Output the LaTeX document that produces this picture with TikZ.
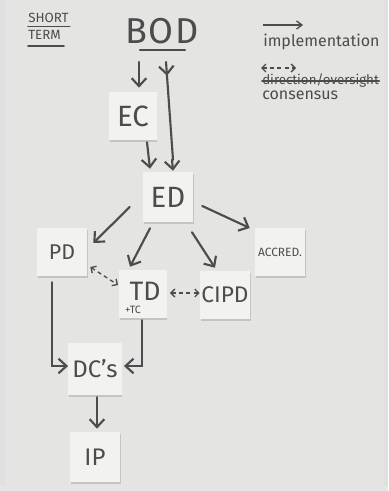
\documentclass[tikz,border=0pt]{standalone}
\usepackage{fontspec}
\setmainfont{Fira Sans}
\usetikzlibrary{arrows.meta,shadows,decorations.markings,calc}
\definecolor{paperc}{HTML}{E4E4E2}
\definecolor{notec}{HTML}{F2F2EF}
\definecolor{inkc}{HTML}{4C4C4C}
\begin{document}
\begin{tikzpicture}[x=0.75pt,y=-0.75pt,
  ink/.style={draw=inkc,line width=1.6pt,line cap=round},
  arr/.style={ink,-{Straight Barb[length=6pt,width=11pt,line width=1.6pt]}},
  darr/.style={draw=inkc,line width=1pt,dash pattern=on 3pt off 2.5pt,
    {Straight Barb[length=3pt,width=6pt]}-{Straight Barb[length=3pt,width=6pt]}},
  note/.style={fill=notec,inner sep=0pt,text=inkc,
    drop shadow={shadow xshift=0.5pt,shadow yshift=-1.5pt,fill=black!35,opacity=0.5}},
  hand/.style={text=inkc,inner sep=0pt}
]
\useasboundingbox (0,0) rectangle (388,491);
\fill[paperc] (0,0) rectangle (388,491);
\fill[black!12] (0,0) rectangle (5,491);
\fill[black!12] (384,0) rectangle (388,491);
\fill[black!10] (0,486) rectangle (388,491);

% header
\node[hand,anchor=base west,font=\fontsize{10}{10}\selectfont] (short) at (28,23) {SHORT};
\node[hand,anchor=base west,font=\fontsize{10}{10}\selectfont] (term) at (28,40) {TERM};
\draw[ink,line width=1.2pt] ([shift={(0,3)}]short.south west) -- ([shift={(1,3)}]short.south east);
\draw[ink,line width=1.2pt] ([shift={(0,6)}]term.south west) -- ([shift={(3,6)}]term.south east);

\node[hand,anchor=base,font=\fontsize{27}{27}\selectfont\addfontfeature{LetterSpace=4}] (bod) at (162,44) {BOD};
\draw[ink] ([shift={(-22,6)}]bod.base) -- ([shift={(23,6)}]bod.base);

% legend
\coordinate (lga) at (263,25);
\coordinate (lgb) at (303,25);
\draw[draw=inkc,line width=1pt,-{Straight Barb[length=4pt,width=6pt]}] (lga) -- (lgb);
\node[hand,anchor=base west,font=\fontsize{12}{12}\selectfont] (impl) at (263,47) {implementation};
\coordinate (lgc) at (261,68);
\coordinate (lgd) at (296,68);
\draw[darr] (lgc) -- (lgd);
\node[hand,anchor=base west,font=\fontsize{10}{10}\selectfont] (dir) at (262,85) {direction/oversight};
\draw[ink,line width=1.4pt] ([yshift=2.8pt]dir.base west) -- ([yshift=2.8pt]dir.base east);
\node[hand,anchor=base west,font=\fontsize{12}{12}\selectfont] (cons) at (262,100) {consensus};

% notes
\node[note,minimum width=35.5pt,minimum height=36pt,font=\fontsize{22}{22}\selectfont] (ec) at (133,116) {EC};
\node[note,minimum width=37.5pt,minimum height=37.5pt,font=\fontsize{22}{22}\selectfont] (ed) at (168,197) {ED};
\node[note,minimum width=37.5pt,minimum height=36pt,font=\fontsize{16}{16}\selectfont] (pd) at (62,252) {PD\hspace{6pt}};
\node[note,minimum width=37.5pt,minimum height=36pt,font=\fontsize{9}{9}\selectfont] (accred) at (280,252) {ACCRED.};
\node[note,minimum width=35.5pt,minimum height=36pt] (td) at (143,294) {};
\node[hand,font=\fontsize{20}{20}\selectfont] (tdt) at (145,291) {TD};
\node[hand,font=\fontsize{8}{8}\selectfont] (tc) at (133,310) {+TC};
\node[note,minimum width=37.5pt,minimum height=36pt,font=\fontsize{17}{17}\selectfont] (cipd) at (225,295) {CIPD};
\node[note,minimum width=40pt,minimum height=39pt,font=\fontsize{18}{18}\selectfont] (dcs) at (95,369) {DC's};
\node[note,minimum width=37.5pt,minimum height=37.5pt,font=\fontsize{18}{18}\selectfont] (ip) at (95,457) {IP};

% connectors
\draw[arr] ([shift={(-23,18)}]bod.base) -- ([shift={(6,-4)}]ec.north);
\draw[ink,decoration={markings,mark=at position 0.14 with {\arrow{Straight Barb[length=6pt,width=11pt,line width=1.6pt]}}},postaction={decorate}]
  ([shift={(4,18)}]bod.base) -- ([shift={(5,-12)}]ed.north);
\draw[arr] ([shift={(4,-12)}]ed.north) -- ([shift={(5,-1)}]ed.north);
\draw[arr] ([shift={(14,2)}]ec.south) -- ([shift={(-18,-3)}]ed.north);
\draw[arr] ([shift={(-13,10)}]ed.west) -- ([shift={(6,-9)}]pd.east);
\draw[arr] ([shift={(-18,6)}]ed.south) -- ([shift={(-13,-3)}]td.north);
\draw[arr] ([shift={(24,10)}]ed.south) -- ([shift={(-10,-3)}]cipd.north);
\draw[arr] ([shift={(9,9)}]ed.east) -- ([shift={(-5,-24)}]accred.west);
\draw[darr] ([shift={(3,15)}]pd.east) -- ([shift={(-1,-9)}]td.west);
\draw[darr] ([shift={(3,-1)}]td.east) -- ([shift={(0,-2)}]cipd.west);
\draw[arr] ([shift={(-10,6)}]pd.south) |- ([shift={(0,-3)}]dcs.west);
\draw[arr] ([shift={(-1,2)}]td.south) |- ([shift={(2,-3)}]dcs.east);
\draw[arr] ([shift={(2,2)}]dcs.south) -- ([shift={(2,-3)}]ip.north);
\end{tikzpicture}
\end{document}
